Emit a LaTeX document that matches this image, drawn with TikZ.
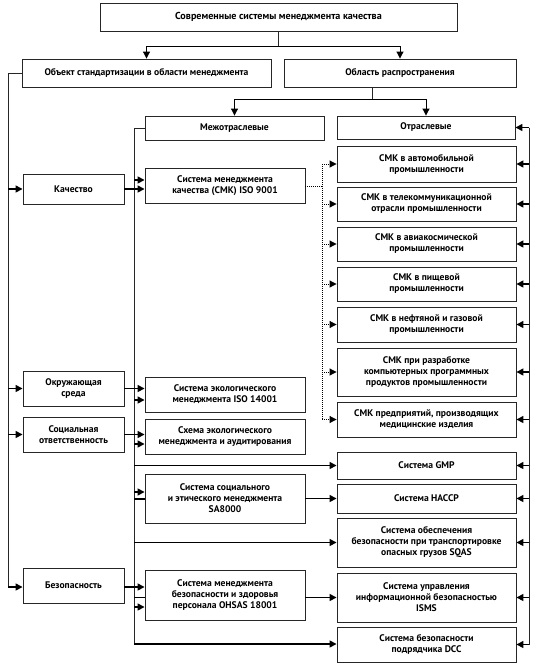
\documentclass[tikz,border=0pt]{standalone}
\usepackage{fontspec}
\setmainfont{PT Sans}
\usetikzlibrary{arrows.meta}
\begin{document}
\begin{tikzpicture}[x=1pt,y=-1pt,
  box/.style={draw=black!85,line width=0.9pt,fill=white,align=center,inner sep=1pt,
    font=\fontsize{9.6}{11}\selectfont\bfseries},
  bus/.style={line width=1pt,draw=black!85},
  arr/.style={line width=1.5pt,draw=black,-{Triangle[length=7pt,width=7pt]}},
  tarr/.style={line width=1pt,draw=black,-{Triangle[length=7pt,width=7pt]}},
  darr/.style={line width=1pt,draw=black,densely dotted,-{Triangle[length=7pt,width=7pt]}},
  dbus/.style={line width=1pt,draw=black,densely dotted}]
\useasboundingbox (0,0) rectangle (544,670);
% top level
\node[box,minimum width=357pt,minimum height=28pt,font=\fontsize{10.1}{11}\selectfont\bfseries] (title) at (278.5,17) {Современные системы менеджмента качества};
\node[box,minimum width=249pt,minimum height=28pt] (obj) at (146.5,73) {Объект стандартизации в области менеджмента};
\node[box,minimum width=232pt,minimum height=28pt] (area) at (400,73) {Область распространения};
\node[box,minimum width=179pt,minimum height=24pt] (mezh) at (234.5,128) {Межотраслевые};
\node[box,minimum width=178pt,minimum height=23pt] (otr) at (426,127.5) {Отраслевые};
% left column
\node[box,minimum width=101pt,minimum height=30pt] (kach) at (73.5,189) {Качество};
\node[box,minimum width=101pt,minimum height=35pt] (okr) at (73.5,388.5) {Окружающая\\среда};
\node[box,minimum width=101pt,minimum height=35pt] (soc) at (73.5,434.5) {Социальная\\ответственность};
\node[box,minimum width=101pt,minimum height=35pt] (bez) at (73.5,585.5) {Безопасность};
% middle column
\node[box,minimum width=160pt,minimum height=35pt] (iso9) at (225,185.5) {Система менеджмента\\качества (СМК) ISO 9001};
\node[box,minimum width=160pt,minimum height=35pt] (iso14) at (225,394.5) {Система экологического\\менеджмента ISO 14001};
\node[box,minimum width=160pt,minimum height=35pt] (eco) at (225,436.5) {Схема экологического\\менеджмента и аудитирования};
\node[box,minimum width=160pt,minimum height=49pt] (sa) at (225,498.5) {Система социального\\и этического менеджмента\\SA8000};
\node[box,minimum width=160pt,minimum height=50pt] (ohsas) at (225,595) {Система менеджмента\\безопасности и здоровья\\персонала OHSAS 18001};
% right column
\node[box,minimum width=179pt,minimum height=36pt] (avto) at (426.5,164) {СМК в автомобильной\\промышленности};
\node[box,minimum width=179pt,minimum height=34pt] (tele) at (426.5,204) {СМК в телекоммуникационной\\отрасли промышленности};
\node[box,minimum width=179pt,minimum height=34pt] (avia) at (426.5,244) {СМК в авиакосмической\\промышленности};
\node[box,minimum width=179pt,minimum height=34pt] (food) at (426.5,284) {СМК в пищевой\\промышленности};
\node[box,minimum width=179pt,minimum height=35pt] (oil) at (426.5,324.5) {СМК в нефтяной и газовой\\промышленности};
\node[box,minimum width=179pt,minimum height=48pt] (soft) at (426.5,372) {СМК при разработке\\компьютерных программных\\продуктов промышленности};
\node[box,minimum width=179pt,minimum height=35pt] (med) at (426.5,419.5) {СМК предприятий, производящих\\медицинские изделия};
\node[box,minimum width=179pt,minimum height=27pt] (gmp) at (426.5,465.5) {Система GMP};
\node[box,minimum width=179pt,minimum height=29pt] (haccp) at (426.5,498.5) {Система HACCP};
\node[box,minimum width=179pt,minimum height=49pt] (sqas) at (426.5,542.5) {Система обеспечения\\безопасности при транспортировке\\опасных грузов SQAS};
\node[box,minimum width=179pt,minimum height=49pt] (isms) at (426.5,597.5) {Система управления\\информационной безопасностью\\ISMS};
\node[box,minimum width=179pt,minimum height=35pt] (dcc) at (426.5,644.5) {Система безопасности\\подрядчика DCC};
% junction coordinates
\coordinate (j1) at (278.5,46);
\coordinate (j2) at (372,99);
\coordinate (lb) at (8,74);
\coordinate (lbe) at (8,587);
\coordinate (mb) at (134,128);
\coordinate (mbe) at (134,644);
\coordinate (db) at (322,186);
\coordinate (dbt) at (322,164);
\coordinate (dbe) at (322,419.5);
\coordinate (rb) at (529,127.5);
\coordinate (rbe) at (529,644.5);
% top connectors
\draw[bus] (title.south) -- (j1);
\draw[tarr] (j1) -| (obj.north);
\draw[tarr] (j1) -| (area.north);
\draw[bus] (j2 |- area.south) -- (j2);
\draw[tarr] (j2) -| (mezh.north);
\draw[tarr] (j2) -| (otr.north);
% left bus
\draw[bus] (obj.west) -| (lbe);
\draw[arr] (lb |- kach.west) -- (kach.west);
\draw[arr] (lb |- okr.west) -- (okr.west);
\draw[arr] (lb |- soc.west) -- (soc.west);
\draw[arr] (lbe) -- (lbe -| bez.west);
% middle bus
\draw[bus] (mezh.west) -- (mb) -- (mbe);
\draw[arr] (kach.east) -- (kach.east -| iso9.west);
\draw[arr] (okr.east) -- (okr.east -| iso14.west);
\draw[arr] (soc.east) -- (soc.east -| eco.west);
\draw[arr] (bez.east |- 0,587) -- (ohsas.west |- 0,587);
\draw[arr] (134,180) -- (iso9.west |- 0,180);
\draw[arr] (134,400) -- (iso14.west |- 0,400);
\draw[arr] (134,444) -- (eco.west |- 0,444);
\draw[arr] (mb |- gmp.west) -- (gmp.west);
\draw[arr] (134,492) -- (sa.west |- 0,492);
\draw[line width=1.5pt] (134,499) -- (sa.west |- 0,499);
\draw[arr] (sa.east |- haccp.west) -- (haccp.west);
\draw[arr] (mb |- sqas.west) -- (sqas.west);
\draw[line width=1.5pt] (134,597.5) -- (ohsas.west |- 0,597.5);
\draw[arr] (ohsas.east |- isms.west) -- (isms.west);
\draw[arr] (134,607) -- (ohsas.west |- 0,607);
\draw[arr] (mbe) -- (mbe -| dcc.west);
% dotted bus
\draw[dbus] (iso9.east |- db) -- (db);
\draw[dbus] (dbt) -- (dbe);
\foreach \n in {avto,tele,avia,food,oil,soft,med}
  \draw[darr] (db |- \n.west) -- (\n.west);
% right bus
\draw[bus] (rb) -- (rbe);
\foreach \n in {otr,avto,tele,avia,food,oil,soft,med,gmp,haccp,sqas,isms,dcc}
  \draw[arr] (rb |- \n.east) -- (\n.east);
\end{tikzpicture}
\end{document}
